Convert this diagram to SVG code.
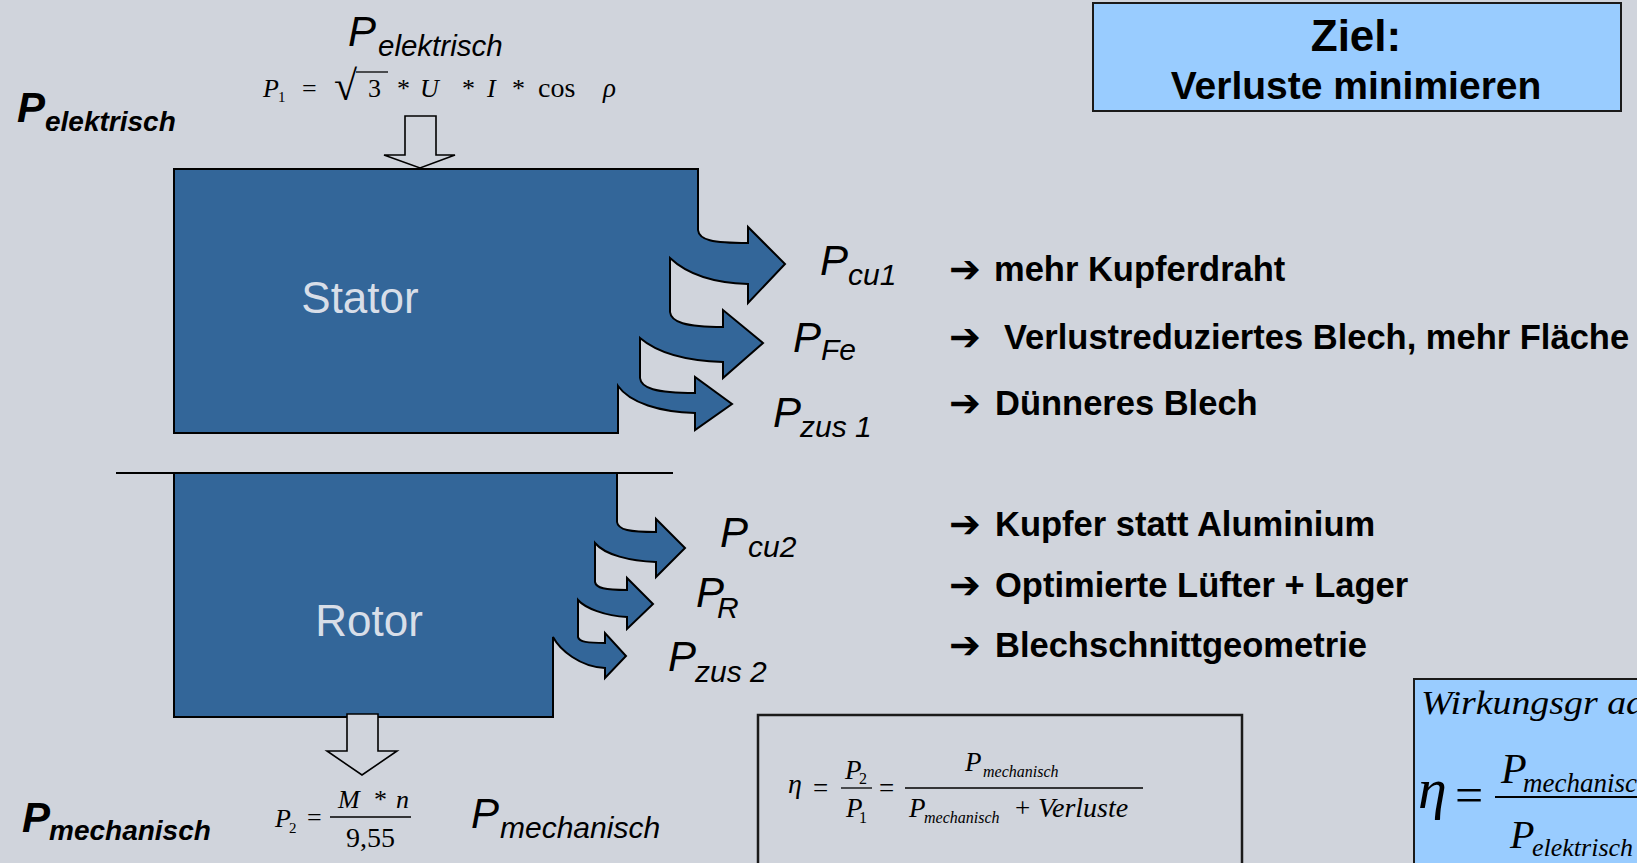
<svg xmlns="http://www.w3.org/2000/svg" width="1637" height="863" viewBox="0 0 1637 863">
<style>
.bg{fill:#D0D4DC}
.blk{fill:#336699;stroke:#000;stroke-width:2;stroke-linejoin:miter}
.hollow{fill:#D0D4DC;stroke:#000;stroke-width:1.6}
.lbl{font-family:"Liberation Sans",Arial,sans-serif;font-size:44px;fill:#D8DEE8}
.pi{font-family:"Liberation Sans",Arial,sans-serif;font-style:italic;fill:#000}
.pbi{font-family:"Liberation Sans",Arial,sans-serif;font-style:italic;font-weight:bold;fill:#000}
.m{font-family:"Liberation Serif","Times New Roman",serif;fill:#000}
.mi{font-family:"Liberation Serif","Times New Roman",serif;font-style:italic;fill:#000}
.list{font-family:"Liberation Sans",Arial,sans-serif;font-weight:bold;font-size:34.5px;fill:#000}
.arr{font-family:"DejaVu Sans",sans-serif;font-weight:bold;font-size:38px;fill:#000}
.box{fill:#99CCFF;stroke:#1a1a1a;stroke-width:2}
.fbox{fill:none;stroke:#1a1a1a;stroke-width:2.5}
.ln{stroke:#000;stroke-width:1.3}
</style>
<rect class="bg" x="0" y="0" width="1637" height="863"/>

<g id="stator">
<path class="blk" d="M174 169 L698 169 L698 230 C699 240 712 243 748 243 L748 227 L785 264 L748 303 L748 284 C715 283 688 275 670 258 L670 312 C671 322 685 327 723 327 L723 310 L763 343 L723 378 L723 362 C690 361 660 355 640 338 L640 378 C641 388 655 393 695 393 L695 377 L732 404 L695 430 L695 413 C660 412 630 403 618 386 L618 433 L174 433 Z"/>
<text class="lbl" x="360" y="313" text-anchor="middle">Stator</text>
</g>

<g id="rotor">
<path class="blk" d="M174 473 L617 473 L617 522 C618 530 630 532 656 532 L656 519 L685 548 L656 577 L656 562 C630 561 605 555 595 543 L595 582 C596 588 605 590 627 590 L627 578 L653 604 L627 629 L627 617 C605 616 585 608 578 600 L578 637 C579 642 588 643 605 643 L605 633 L626 656 L605 678 L605 668 C580 667 560 650 553 637 L553 717 L174 717 Z"/>
<text class="lbl" x="369" y="636" text-anchor="middle">Rotor</text>
</g>

<g id="airgap">
<line x1="116" y1="473" x2="673" y2="473" stroke="#000" stroke-width="2"/>
</g>

<g id="connectors">
<polygon class="hollow" points="405,116 436,116 436,155 455,155 420,168 384,155 405,155"/>
<polygon class="hollow" points="347,714 378,714 378,751 397,751 362,775 327,751 347,751"/>
</g>

<g id="input-labels">
<text class="pi" x="348" y="46" font-size="42">P</text>
<text class="pi" x="378" y="56" font-size="29.5">elektrisch</text>
<text class="pbi" x="17" y="122" font-size="42">P</text>
<text class="pbi" x="45" y="131" font-size="28">elektrisch</text>
<g id="formula-p1">
<text class="mi" x="263" y="97" font-size="26">P</text>
<text class="m" x="278" y="102" font-size="15">1</text>
<text class="m" x="302" y="97" font-size="26">=</text>
<text class="m" x="334" y="100" font-size="42">√</text>
<line class="ln" x1="356" y1="72" x2="388" y2="72"/>
<text class="m" x="368" y="97" font-size="26">3</text>
<text class="m" x="397" y="97" font-size="26">*</text>
<text class="mi" x="420" y="97" font-size="26">U</text>
<text class="m" x="462" y="97" font-size="26">*</text>
<text class="mi" x="487" y="97" font-size="26">I</text>
<text class="m" x="512" y="97" font-size="26">*</text>
<text class="m" x="538" y="97" font-size="28">cos</text>
<text class="mi" x="603" y="97" font-size="27">ρ</text>
</g>
</g>

<g id="loss-labels">
<text class="pi" x="820" y="275" font-size="42">P</text><text class="pi" x="848" y="285" font-size="30">cu1</text>
<text class="pi" x="793" y="352" font-size="42">P</text><text class="pi" x="821" y="360" font-size="30">Fe</text>
<text class="pi" x="773" y="427" font-size="42">P</text><text class="pi" x="800" y="437" font-size="30">zus 1</text>
<text class="pi" x="720" y="547" font-size="42">P</text><text class="pi" x="748" y="557" font-size="30">cu2</text>
<text class="pi" x="696" y="607" font-size="42">P</text><text class="pi" x="717" y="618" font-size="30">R</text>
<text class="pi" x="668" y="671" font-size="42">P</text><text class="pi" x="695" y="682" font-size="30">zus 2</text>
</g>

<g id="measures">
<text class="arr" x="949" y="282">➔</text><text class="list" x="994" y="281">mehr Kupferdraht</text>
<text class="arr" x="949" y="350">➔</text><text class="list" x="1004" y="349">Verlustreduziertes Blech, mehr Fläche</text>
<text class="arr" x="949" y="416">➔</text><text class="list" x="995" y="415">Dünneres Blech</text>
<text class="arr" x="949" y="537">➔</text><text class="list" x="995" y="536">Kupfer statt Aluminium</text>
<text class="arr" x="949" y="598">➔</text><text class="list" x="995" y="597">Optimierte Lüfter + Lager</text>
<text class="arr" x="949" y="658">➔</text><text class="list" x="995" y="657">Blechschnittgeometrie</text>
</g>

<g id="output-labels">
<text class="pbi" x="22" y="832" font-size="42">P</text>
<text class="pbi" x="49" y="840" font-size="28">mechanisch</text>
<text class="pi" x="471" y="828" font-size="42">P</text>
<text class="pi" x="500" y="838" font-size="30">mechanisch</text>
<g id="formula-p2">
<text class="mi" x="275" y="827" font-size="26">P</text>
<text class="m" x="289" y="833" font-size="15">2</text>
<text class="m" x="307" y="826" font-size="26">=</text>
<text class="mi" x="338" y="808" font-size="26">M</text>
<text class="m" x="374" y="808" font-size="26">*</text>
<text class="mi" x="396" y="808" font-size="26">n</text>
<line class="ln" x1="330" y1="817" x2="411" y2="817"/>
<text class="m" x="346" y="847" font-size="28">9,55</text>
</g>
</g>

<g id="ziel">
<rect class="box" x="1093" y="3" width="528" height="108"/>
<text x="1356" y="51" text-anchor="middle" font-family="Liberation Sans, Arial, sans-serif" font-weight="bold" font-size="44">Ziel:</text>
<text x="1356" y="99" text-anchor="middle" font-family="Liberation Sans, Arial, sans-serif" font-weight="bold" font-size="39">Verluste minimieren</text>
</g>

<g id="efficiency-formula">
<rect class="fbox" x="758" y="715" width="484" height="170"/>
<text class="mi" x="788" y="793" font-size="28">η</text>
<text class="m" x="813" y="797" font-size="27">=</text>
<text class="mi" x="845" y="779" font-size="27">P</text>
<text class="m" x="859" y="784" font-size="16">2</text>
<line class="ln" x1="841" y1="788" x2="872" y2="788"/>
<text class="mi" x="846" y="817" font-size="27">P</text>
<text class="m" x="859" y="823" font-size="16">1</text>
<text class="m" x="879" y="797" font-size="27">=</text>
<text class="mi" x="965" y="771" font-size="27">P</text>
<text class="mi" x="983" y="777" font-size="16">mechanisch</text>
<line class="ln" x1="905" y1="788" x2="1143" y2="788"/>
<text class="mi" x="909" y="817" font-size="27">P</text>
<text class="mi" x="924" y="823" font-size="16">mechanisch</text>
<text class="m" x="1015" y="817" font-size="27">+</text>
<text class="mi" x="1038" y="817" font-size="28">Verluste</text>
</g>

<g id="wirkungsgrad">
<rect class="box" x="1414" y="679" width="260" height="220"/>
<text class="mi" x="1421" y="714" font-size="33" textLength="224" lengthAdjust="spacingAndGlyphs">Wirkungsgr ad</text>
<text class="mi" x="1418" y="808" font-size="58">η</text>
<text class="m" x="1455" y="812" font-size="50">=</text>
<line x1="1495" y1="797" x2="1640" y2="797" stroke="#000" stroke-width="2"/>
<text class="mi" x="1501" y="783" font-size="42">P</text>
<text class="mi" x="1523" y="792" font-size="27">mechanisch</text>
<text class="mi" x="1510" y="848" font-size="40">P</text>
<text class="mi" x="1532" y="856" font-size="26">elektrisch</text>
</g>
</svg>
